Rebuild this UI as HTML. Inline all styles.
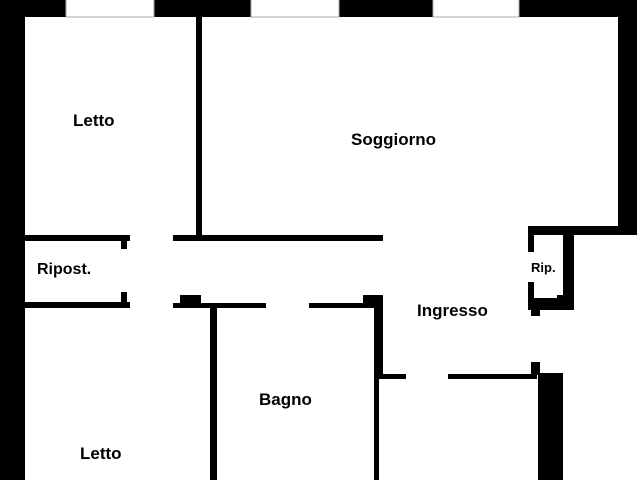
<!DOCTYPE html>
<html><head><meta charset="utf-8"><style>html,body{margin:0;padding:0;background:#fff;}svg{display:block}</style></head>
<body>
<svg width="640" height="480" viewBox="0 0 640 480" xmlns="http://www.w3.org/2000/svg">
<rect width="640" height="480" fill="#fff"/>
<g fill="#000">
<!-- top wall -->
<rect x="0" y="0" width="637" height="17"/>
<!-- left wall -->
<rect x="0" y="0" width="25" height="480"/>
<!-- right wall -->
<rect x="618" y="0" width="19" height="235"/>
<!-- Letto/Soggiorno divider -->
<rect x="196" y="17" width="6" height="224"/>
<!-- Soggiorno bottom -->
<rect x="173" y="235" width="210" height="6"/>
<!-- Ripost -->
<rect x="25" y="235" width="105" height="6"/>
<rect x="121" y="241" width="6" height="8"/>
<rect x="25" y="302" width="105" height="6"/>
<rect x="121" y="292" width="6" height="10"/>
<!-- corridor bottom walls -->
<rect x="173" y="303" width="93" height="5"/>
<rect x="180" y="295" width="21" height="8"/>
<rect x="210" y="303" width="7" height="177"/>
<rect x="309" y="303" width="74" height="5"/>
<rect x="363" y="295" width="20" height="13"/>
<rect x="374" y="295" width="9" height="80"/>
<rect x="374" y="374" width="5" height="106"/>
<rect x="374" y="374" width="32" height="5"/>
<rect x="448" y="374" width="89" height="5"/>
<rect x="531" y="362" width="9" height="13"/>
<rect x="538" y="373" width="25" height="107"/>
<!-- Rip -->
<rect x="528" y="226" width="109" height="9"/>
<rect x="528" y="226" width="6" height="26"/>
<rect x="528" y="282" width="6" height="28"/>
<rect x="531" y="305" width="9" height="11"/>
<rect x="563" y="233" width="11" height="77"/>
<rect x="531" y="298" width="43" height="12"/>
<rect x="557" y="295" width="8" height="6"/>
</g>
<!-- windows -->
<g fill="#fff" stroke="#aaa" stroke-width="1">
<rect x="66" y="-1" width="88" height="18"/>
<rect x="251" y="-1" width="88" height="18"/>
<rect x="433" y="-1" width="86" height="18"/>
</g>
<g font-family="Liberation Sans, Arial, sans-serif" font-weight="bold" fill="#000" font-size="17">
<text x="73" y="126">Letto</text>
<text x="351" y="145">Soggiorno</text>
<text x="37" y="274" font-size="16">Ripost.</text>
<text x="531" y="272" font-size="13">Rip.</text>
<text x="417" y="316">Ingresso</text>
<text x="259" y="405">Bagno</text>
<text x="80" y="459">Letto</text>
</g>
</svg>
</body></html>
